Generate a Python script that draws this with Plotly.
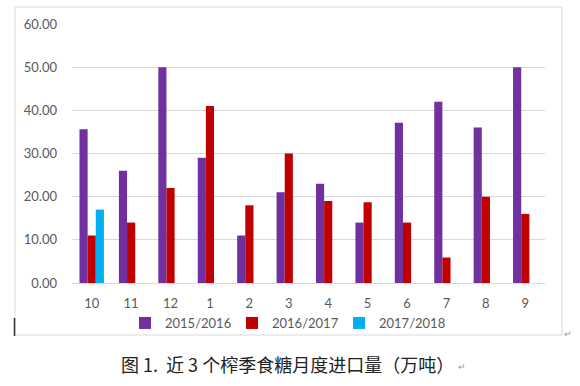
import plotly.graph_objects as go

months = ["10", "11", "12", "1", "2", "3", "4", "5", "6", "7", "8", "9"]
s2015 = [35.6, 26.0, 50.0, 29.0, 11.0, 21.0, 23.0, 14.0, 37.1, 42.0, 36.0, 50.0]
s2016 = [11.0, 14.0, 22.0, 41.0, 18.0, 30.0, 19.0, 18.7, 14.0, 5.9, 20.0, 16.0]
s2017 = [17.0, None, None, None, None, None, None, None, None, None, None, None]
names = ["2015/2016", "2016/2017", "2017/2018"]
colors = ["#7030A0", "#C00000", "#00B0F0"]
yticks = [0, 10, 20, 30, 40, 50, 60]
caption = "图 1.  近 3 个榨季食糖月度进口量（万吨）"

W, H = 580, 386
L, R, T, B = 72, 35, 24, 103
pw, ph = W - L - R, H - T - B

def px(x):
    return (x - L) / pw

def py(y):
    return (H - B - y) / ph

fig = go.Figure()
for name, vals, col in zip(names, [s2015, s2016, s2017], colors):
    fig.add_trace(go.Bar(x=months, y=vals, name=name, marker=dict(color=col, line=dict(width=0))))

font = "Lato, Open Sans, sans-serif"
fig.update_layout(
    width=W, height=H,
    margin=dict(l=L, r=R, t=T, b=B, autoexpand=False),
    paper_bgcolor="white", plot_bgcolor="white",
    barmode="group", bargap=0.38, bargroupgap=0,
    font=dict(family=font, size=12, color="#595959"),
    xaxis=dict(type="category", showgrid=False, showline=True, linecolor="#D9D9D9",
               ticks="", ticklabelstandoff=8, tickfont=dict(size=13, color="#595959")),
    yaxis=dict(range=[0, 60], tickvals=yticks, tickformat=".2f", showgrid=True,
               gridcolor="#D9D9D9", gridwidth=1, zeroline=False, showline=False,
               ticks="", ticklabelstandoff=14, tickfont=dict(size=13, color="#595959")),
    legend=dict(orientation="h", x=px(125), xanchor="left", y=py(323), yanchor="middle",
                font=dict(size=13, color="#595959"), itemwidth=30,
                entrywidth=62, entrywidthmode="pixels",
                traceorder="normal", bgcolor="rgba(0,0,0,0)"),
    showlegend=True,
)

# chart border
fig.add_shape(type="rect", xref="paper", yref="paper",
              x0=px(15), x1=px(562), y0=py(335), y1=py(7),
              line=dict(color="#D9D9D9", width=1), fillcolor="rgba(0,0,0,0)", layer="below")
# cursor mark
fig.add_shape(type="line", xref="paper", yref="paper",
              x0=px(14.5), x1=px(14.5), y0=py(336), y1=py(318),
              line=dict(color="#333333", width=1.5))

fig.add_annotation(text=caption, xref="paper", yref="paper", x=px(287), y=py(364),
                   showarrow=False, xanchor="center", yanchor="middle",
                   font=dict(family="Noto Sans CJK SC", size=18, color="#222222"))
fig.add_annotation(text="↵", xref="paper", yref="paper", x=px(462), y=py(366),
                   showarrow=False, xanchor="center", yanchor="middle",
                   font=dict(size=9, color="#999999"))
fig.add_annotation(text="↵", xref="paper", yref="paper", x=px(568), y=py(333),
                   showarrow=False, xanchor="center", yanchor="middle",
                   font=dict(size=9, color="#999999"))

fig.write_html("out.html", config={"displayModeBar": False},
               post_script="document.body.style.margin='0';")
